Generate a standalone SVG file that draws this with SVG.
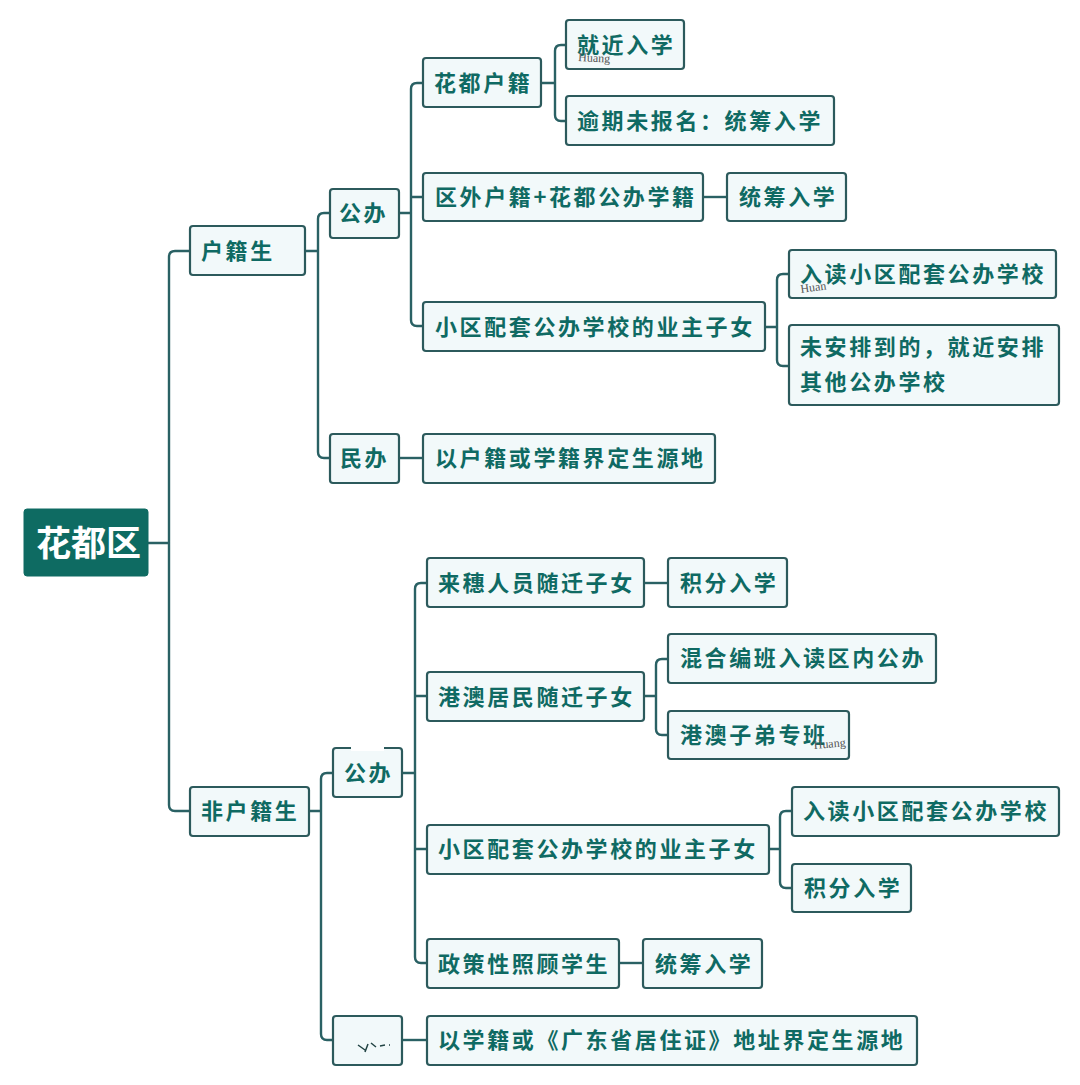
<svg xmlns="http://www.w3.org/2000/svg" width="1080" height="1085" viewBox="0 0 1080 1085">
<style>
.n{fill:#f2f9fa;stroke:#2c5a5c;stroke-width:2.2}
.t{font-family:"Noto Sans CJK SC","Noto Sans",sans-serif;font-size:22px;font-weight:700;fill:#0f6a63;letter-spacing:2.6px}
.c{fill:none;stroke:#2a6164;stroke-width:2.4}
.m{fill:none;stroke:#244;stroke-width:1.5}
.w{font-family:"Liberation Serif",serif;fill:#555;font-size:12px}
</style>
<rect width="1080" height="1085" fill="#fff"/>
<g id="connectors" class="c">
<path d="M148 543H169M190 251H175Q169 251 169 257V805Q169 811 175 811H190"/>
<path d="M305 251H318M330 213H324Q318 213 318 219V452Q318 458 324 458H330"/>
<path d="M399 213H411M423 83H417Q411 83 411 89V320Q411 326 417 326H423M411 197H423"/>
<path d="M541 83H555M566 45H561Q555 45 555 51V115Q555 121 561 121H566"/>
<path d="M703 197H727"/>
<path d="M765 327H777M789 274H783Q777 274 777 280V360Q777 366 783 366H789"/>
<path d="M399 458H423"/>
<path d="M309 811H321M333 773H327Q321 773 321 779V1034Q321 1040 327 1040H333"/>
<path d="M402 773H415M427 583H421Q415 583 415 589V957Q415 963 421 963H427M415 696H427M415 849H427"/>
<path d="M644 583H668"/>
<path d="M644 696H656M668 659H662Q656 659 656 665V729Q656 735 662 735H668"/>
<path d="M769 849H780M792 811H786Q780 811 780 817V882Q780 888 786 888H792"/>
<path d="M619 963H643"/>
<path d="M402 1040H427"/>
</g>
<g id="root"><rect x="24" y="509" width="124" height="67" rx="3" fill="#0e6b62" stroke="#0e6b62"/><text x="36" y="556" font-family="&quot;Noto Sans CJK SC&quot;,sans-serif" font-size="35" font-weight="700" fill="#fff">花都区</text></g>
<g id="n1"><rect class="n" x="190" y="226" width="115" height="49" rx="3"/><text class="t" x="201" y="259">户籍生</text></g>
<g id="n2"><rect class="n" x="330" y="189" width="69" height="49" rx="3"/><text class="t" x="339" y="221">公办</text></g>
<g id="n3"><rect class="n" x="330" y="434" width="69" height="49" rx="3"/><text class="t" x="340" y="466">民办</text></g>
<g id="n4"><rect class="n" x="423" y="58" width="118" height="49" rx="3"/><text class="t" x="434" y="91">花都户籍</text></g>
<g id="n5"><rect class="n" x="566" y="20" width="118" height="49" rx="3"/><text class="t" x="577" y="53">就近入学</text><text class="w" x="578" y="61" font-size="10" transform="rotate(3 578 61)">Huang</text></g>
<g id="n6"><rect class="n" x="566" y="96" width="268" height="49" rx="3"/><text class="t" x="577" y="129">逾期未报名：统筹入学</text></g>
<g id="n7"><rect class="n" x="423" y="173" width="280" height="48" rx="3"/><text class="t" x="435" y="205">区外户籍+花都公办学籍</text></g>
<g id="n8"><rect class="n" x="727" y="173" width="119" height="48" rx="3"/><text class="t" x="739" y="205">统筹入学</text></g>
<g id="n9"><rect class="n" x="423" y="302" width="342" height="49" rx="3"/><text class="t" x="435" y="335">小区配套公办学校的业主子女</text></g>
<g id="n10"><rect class="n" x="789" y="250" width="267" height="48" rx="3"/><text class="t" x="800" y="282">入读小区配套公办学校</text><text class="w" x="801" y="293" transform="rotate(-8 801 293)">Huan</text></g>
<g id="n11"><rect class="n" x="789" y="325" width="270" height="80" rx="3"/><text class="t" x="800" y="355">未安排到的，就近安排</text><text class="t" x="800" y="390">其他公办学校</text></g>
<g id="n12"><rect class="n" x="423" y="434" width="292" height="49" rx="3"/><text class="t" x="435" y="466">以户籍或学籍界定生源地</text></g>
<g id="n13"><rect class="n" x="190" y="787" width="119" height="49" rx="3"/><text class="t" x="201" y="819">非户籍生</text></g>
<g id="n14"><rect class="n" x="333" y="748" width="69" height="49" rx="3"/><rect x="351" y="745" width="33" height="6" fill="#fff"/><text class="t" x="344" y="781">公办</text></g>
<g id="n15"><rect class="n" x="333" y="1016" width="69" height="49" rx="3"/><path class="m" d="M358 1045l7 5M368 1044l-3 8M371 1043l5 4M380 1046l5-1M389 1045h1" stroke-width="2"/></g>
<g id="n16"><rect class="n" x="427" y="558" width="217" height="49" rx="3"/><text class="t" x="438" y="591">来穗人员随迁子女</text></g>
<g id="n17"><rect class="n" x="668" y="558" width="119" height="49" rx="3"/><text class="t" x="680" y="591">积分入学</text></g>
<g id="n18"><rect class="n" x="427" y="672" width="217" height="49" rx="3"/><text class="t" x="438" y="705">港澳居民随迁子女</text></g>
<g id="n19"><rect class="n" x="668" y="634" width="268" height="49" rx="3"/><text class="t" x="680" y="666">混合编班入读区内公办</text></g>
<g id="n20"><rect class="n" x="668" y="711" width="181" height="48" rx="3"/><text class="t" x="680" y="743">港澳子弟专班</text><text class="w" x="814" y="749" transform="rotate(-5 814 749)">Huang</text></g>
<g id="n21"><rect class="n" x="427" y="825" width="342" height="49" rx="3"/><text class="t" x="438" y="857">小区配套公办学校的业主子女</text></g>
<g id="n22"><rect class="n" x="792" y="787" width="267" height="49" rx="3"/><text class="t" x="803" y="819">入读小区配套公办学校</text></g>
<g id="n23"><rect class="n" x="792" y="864" width="119" height="48" rx="3"/><text class="t" x="804" y="896">积分入学</text></g>
<g id="n24"><rect class="n" x="427" y="939" width="192" height="49" rx="3"/><text class="t" x="438" y="972">政策性照顾学生</text></g>
<g id="n25"><rect class="n" x="643" y="939" width="119" height="49" rx="3"/><text class="t" x="655" y="972">统筹入学</text></g>
<g id="n26"><rect class="n" x="427" y="1016" width="490" height="49" rx="3"/><text class="t" x="438" y="1048">以学籍或《广东省居住证》地址界定生源地</text></g>
</svg>
